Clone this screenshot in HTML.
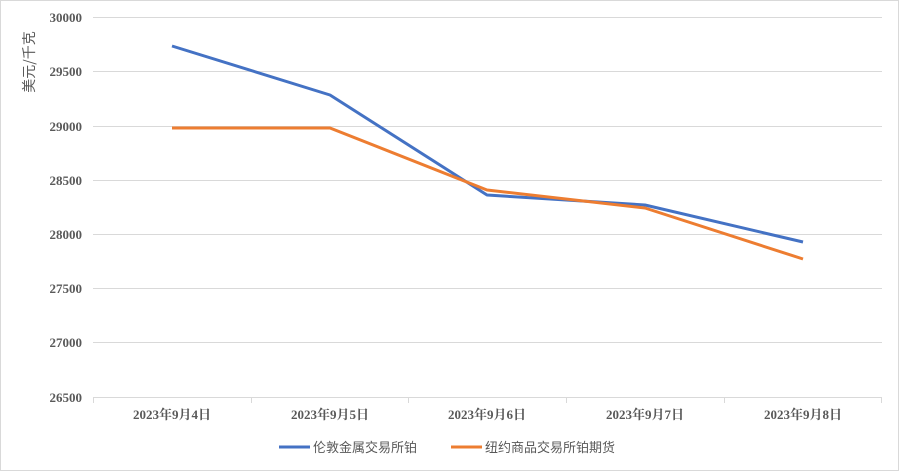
<!DOCTYPE html>
<html><head><meta charset="utf-8"><style>body{margin:0;background:#fff}svg{display:block}</style></head><body>
<svg width="899" height="471" xmlns="http://www.w3.org/2000/svg">
<rect x="0.5" y="0.5" width="898" height="470" fill="#fff" stroke="#d9d9d9"/>
<g stroke="#d9d9d9" stroke-width="1">
<line x1="93" x2="882" y1="17.5" y2="17.5"/><line x1="93" x2="882" y1="71.5" y2="71.5"/>
<line x1="93" x2="882" y1="126.5" y2="126.5"/><line x1="93" x2="882" y1="180.5" y2="180.5"/>
<line x1="93" x2="882" y1="234.5" y2="234.5"/><line x1="93" x2="882" y1="288.5" y2="288.5"/>
<line x1="93" x2="882" y1="342.5" y2="342.5"/><line x1="93" x2="882" y1="397.5" y2="397.5"/>
<line x1="93.5" x2="93.5" y1="397" y2="403"/><line x1="251.5" x2="251.5" y1="397" y2="403"/>
<line x1="408.5" x2="408.5" y1="397" y2="403"/><line x1="566.5" x2="566.5" y1="397" y2="403"/>
<line x1="724.5" x2="724.5" y1="397" y2="403"/><line x1="881.5" x2="881.5" y1="397" y2="403"/>
</g>
<g font-family="Liberation Serif, serif" font-weight="bold" font-size="13" fill="#595959" text-anchor="end">
<text x="82" y="22">30000</text><text x="82" y="76">29500</text><text x="82" y="131">29000</text>
<text x="82" y="185">28500</text><text x="82" y="239">28000</text><text x="82" y="293">27500</text>
<text x="82" y="347">27000</text><text x="82" y="402">26500</text>
</g>
<g font-family="Liberation Serif, 'Noto Serif CJK SC', serif" font-weight="bold" font-size="13" fill="#595959" text-anchor="middle">
<text x="172" y="419">2023年9月4日</text><text x="330" y="419">2023年9月5日</text>
<text x="487" y="419">2023年9月6日</text><text x="645" y="419">2023年9月7日</text>
<text x="803" y="419">2023年9月8日</text>
</g>
<text transform="translate(34,62) rotate(-90)" font-family="'Noto Sans CJK SC', sans-serif" font-size="14" fill="#595959" text-anchor="middle">美元/千克</text>
<polyline fill="none" stroke="#4472c4" stroke-width="3" stroke-linejoin="round" points="172,46 330,95 487,195 645,205 803,242"/>
<polyline fill="none" stroke="#ed7d31" stroke-width="3" stroke-linejoin="round" points="172,128 330,128 487,190 645,208 803,259"/>
<line x1="279" x2="310" y1="447" y2="447" stroke="#4472c4" stroke-width="3"/>
<line x1="451" x2="482" y1="447" y2="447" stroke="#ed7d31" stroke-width="3"/>
<g font-family="'Noto Sans CJK SC', sans-serif" font-size="13" fill="#595959">
<text x="313" y="452">伦敦金属交易所铂</text><text x="485" y="452">纽约商品交易所铂期货</text>
</g>
</svg>
</body></html>
